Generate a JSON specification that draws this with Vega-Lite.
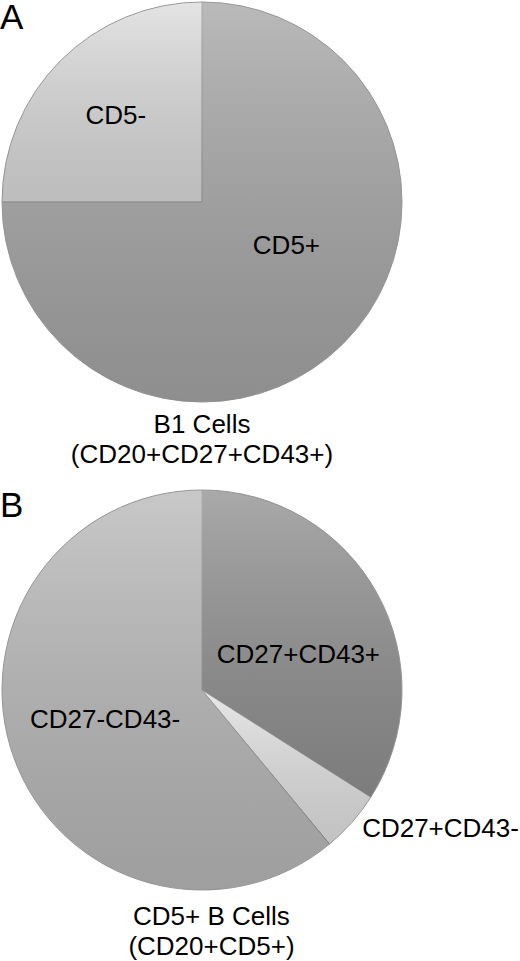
{
  "$schema": "https://vega.github.io/schema/vega-lite/v6.json",
  "padding": 0,
  "background": "white",
  "config": {
    "view": {"stroke": null},
    "font": "Liberation Sans",
    "text": {"font": "Liberation Sans", "fontSize": 26, "color": "#000"},
    "title": {"font": "Liberation Sans", "fontWeight": "normal", "color": "#000"}
  },
  "datasets": {
    "a": [
      {"k": 1, "subset": "CD5+", "pct": 75},
      {"k": 2, "subset": "CD5-", "pct": 25}
    ],
    "b": [
      {"k": 1, "subset": "CD27+CD43+", "pct": 34},
      {"k": 2, "subset": "CD27+CD43-", "pct": 5},
      {"k": 3, "subset": "CD27-CD43-", "pct": 61}
    ]
  },
  "spacing": 20,
  "vconcat": [
    {
      "title": {"text": ["B1 Cells", "(CD20+CD27+CD43+)"], "orient": "bottom", "anchor": "middle", "fontSize": 26, "lineHeight": 30, "offset": 8},
      "vconcat": [
        {
          "width": 404,
          "height": 402,
          "data": {"name": "a"},
          "title": {"text": "A", "anchor": "start", "frame": "group", "fontSize": 35, "baseline": "alphabetic", "offset": 0, "dy": 64},
          "encoding": {
            "theta": {"field": "pct", "type": "quantitative", "stack": true},
            "order": {"field": "k", "type": "quantitative"}
          },
          "layer": [
            {
              "mark": {"type": "arc", "outerRadius": 200, "stroke": "#959595", "strokeWidth": 1},
              "encoding": {
                "color": {
                  "field": "subset", "type": "nominal", "legend": null,
                  "scale": {
                    "domain": ["CD5+", "CD5-", "CD27+CD43+", "CD27+CD43-", "CD27-CD43-"],
                    "range": ["#a6a6a6", "#dcdcdc", "#919191", "#e2e2e2", "#b9b9b9"]
                  }
                }
              }
            },
            {
              "mark": {
                "type": "arc", "outerRadius": 199.5, "strokeWidth": 0,
                "fill": {"gradient": "linear", "x1": 0, "y1": 0, "x2": 0, "y2": 1,
                  "stops": [{"offset": 0, "color": "rgba(255,255,255,0.22)"}, {"offset": 1, "color": "rgba(0,0,0,0.14)"}]}
              },
              "encoding": {}
            },
            {
              "mark": {"type": "text", "radius": 122},
              "encoding": {"text": {"condition": {"test": "datum.subset === 'CD5-'", "field": "subset", "type": "nominal"}, "value": ""}}
            },
            {
              "mark": {"type": "text", "radius": 60, "dx": 42, "dy": 2},
              "encoding": {"text": {"condition": {"test": "datum.subset === 'CD5+'", "field": "subset", "type": "nominal"}, "value": ""}}
            }
          ]
        }
      ]
    },
    {
      "title": {"text": ["CD5+ B Cells", "(CD20+CD5+)"], "orient": "bottom", "anchor": "middle", "fontSize": 26, "lineHeight": 30, "offset": 12, "dx": -48},
      "vconcat": [
        {
          "width": 404,
          "height": 402,
          "data": {"name": "b"},
          "title": {"text": "B", "anchor": "start", "frame": "group", "fontSize": 35, "baseline": "alphabetic", "offset": 0, "dy": 64},
          "encoding": {
            "theta": {"field": "pct", "type": "quantitative", "stack": true},
            "order": {"field": "k", "type": "quantitative"}
          },
          "layer": [
            {
              "mark": {"type": "arc", "outerRadius": 200, "stroke": "#959595", "strokeWidth": 1},
              "encoding": {
                "color": {
                  "field": "subset", "type": "nominal", "legend": null,
                  "scale": {
                    "domain": ["CD5+", "CD5-", "CD27+CD43+", "CD27+CD43-", "CD27-CD43-"],
                    "range": ["#a6a6a6", "#dcdcdc", "#919191", "#e2e2e2", "#b9b9b9"]
                  }
                }
              }
            },
            {
              "mark": {
                "type": "arc", "outerRadius": 199.5, "strokeWidth": 0,
                "fill": {"gradient": "linear", "x1": 0, "y1": 0, "x2": 0, "y2": 1,
                  "stops": [{"offset": 0, "color": "rgba(255,255,255,0.22)"}, {"offset": 1, "color": "rgba(0,0,0,0.14)"}]}
              },
              "encoding": {}
            },
            {
              "mark": {"type": "text", "radius": 110, "dy": 18},
              "encoding": {"text": {"condition": {"test": "datum.subset === 'CD27+CD43+'", "field": "subset", "type": "nominal"}, "value": ""}}
            },
            {
              "mark": {"type": "text", "radius": 103, "dy": -5},
              "encoding": {"text": {"condition": {"test": "datum.subset === 'CD27-CD43-'", "field": "subset", "type": "nominal"}, "value": ""}}
            },
            {
              "mark": {"type": "text", "radius": 210, "dx": 81},
              "encoding": {"text": {"condition": {"test": "datum.subset === 'CD27+CD43-'", "field": "subset", "type": "nominal"}, "value": ""}}
            }
          ]
        }
      ]
    }
  ]
}
